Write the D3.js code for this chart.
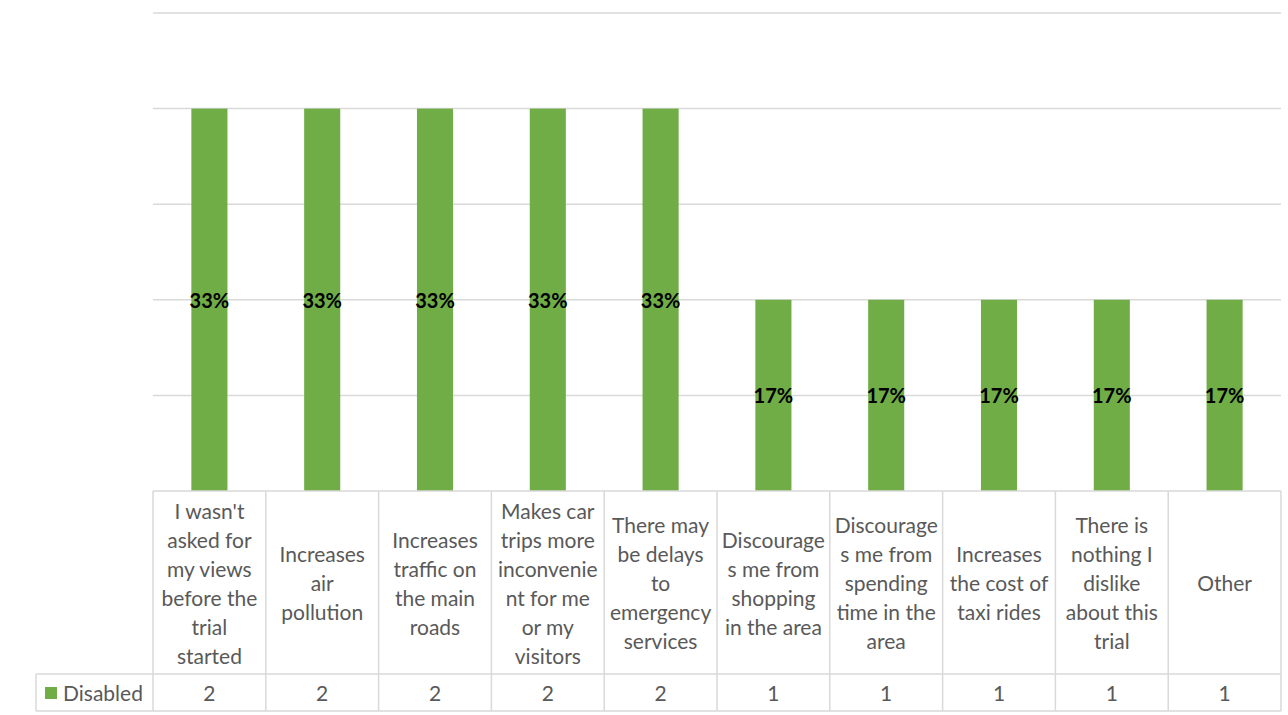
<!DOCTYPE html>
<html><head><meta charset="utf-8">
<script src="https://cdn.jsdelivr.net/npm/d3@7"></script>
<style>body{margin:0;background:#fff}svg{display:block}</style>
</head><body>
<svg id="c" width="1288" height="715"></svg>
<script>
const categories = [
  "I wasn't asked for my views before the trial started",
  "Increases air pollution",
  "Increases traffic on the main roads",
  "Makes car trips more inconvenient for me or my visitors",
  "There may be delays to emergency services",
  "Discourages me from shopping in the area",
  "Discourages me from spending time in the area",
  "Increases the cost of taxi rides",
  "There is nothing I dislike about this trial",
  "Other"
];
const categoryLines = [
  ["I wasn't","asked for","my views","before the","trial","started"],
  ["Increases","air","pollution"],
  ["Increases","traffic on","the main","roads"],
  ["Makes car","trips more","inconvenie","nt for me","or my","visitors"],
  ["There may","be delays","to","emergency","services"],
  ["Discourage","s me from","shopping","in the area"],
  ["Discourage","s me from","spending","time in the","area"],
  ["Increases","the cost of","taxi rides"],
  ["There is","nothing I","dislike","about this","trial"],
  ["Other"]
];
const seriesName = "Disabled";
const disabled = [2, 2, 2, 2, 2, 1, 1, 1, 1, 1];
const percentLabels = ["33%","33%","33%","33%","33%","17%","17%","17%","17%","17%"];
const yTicks = [0, 0.5, 1, 1.5, 2, 2.5];

(function(){
const svg = d3.select("#c");
const pLeft = 153, pRight = 1281, pTop = 13, base = 491;
const row1Bottom = 674, row2Bottom = 711, legendLeft = 36;
const grid = "#d9d9d9", textCol = "#595959", green = "#70ad47";
const font = "Lato, 'Open Sans', sans-serif";

const x = d3.scaleBand().domain(d3.range(categories.length)).range([pLeft, pRight]).paddingInner(0).paddingOuter(0);
const y = d3.scaleLinear().domain([0, 2.5]).range([base, pTop]);

svg.append("g").selectAll("line").data(yTicks.slice(1)).join("line")
  .attr("x1", pLeft).attr("x2", pRight)
  .attr("y1", d => y(d)).attr("y2", d => y(d))
  .attr("stroke", grid).attr("stroke-width", 1.5);

const bw = x.bandwidth() * 0.32;
svg.append("g").selectAll("rect").data(disabled).join("rect")
  .attr("x", (d, i) => x(i) + x.bandwidth() / 2 - bw / 2)
  .attr("width", bw)
  .attr("y", d => y(d))
  .attr("height", d => y(0) - y(d))
  .attr("fill", green);

svg.append("g").selectAll("text").data(disabled).join("text")
  .attr("x", (d, i) => x(i) + x.bandwidth() / 2)
  .attr("y", d => (y(d) + y(0)) / 2)
  .attr("text-anchor", "middle").attr("dominant-baseline", "central")
  .attr("font-family", font).attr("font-weight", "bold").attr("font-size", 20)
  .attr("fill", "#000")
  .text((d, i) => percentLabels[i]);

const tg = svg.append("g").attr("stroke", grid).attr("stroke-width", 1.5).attr("fill", "none");
tg.append("line").attr("x1", pLeft).attr("x2", pRight).attr("y1", base).attr("y2", base);
tg.append("line").attr("x1", legendLeft).attr("x2", pRight).attr("y1", row1Bottom).attr("y2", row1Bottom);
tg.append("line").attr("x1", legendLeft).attr("x2", pRight).attr("y1", row2Bottom).attr("y2", row2Bottom);
tg.append("line").attr("x1", legendLeft).attr("x2", legendLeft).attr("y1", row1Bottom).attr("y2", row2Bottom);
const bounds = d3.range(categories.length).map(i => x(i)).concat([pRight]);
tg.selectAll("line.v").data(bounds).join("line").attr("class", "v")
  .attr("x1", d => d).attr("x2", d => d).attr("y1", base).attr("y2", row2Bottom);

const lh = 29, cy = (base + row1Bottom) / 2;
const lg = svg.append("g").attr("font-family", font).attr("font-size", 21).attr("fill", textCol).attr("text-anchor", "middle");
categoryLines.forEach((lines, i) => {
  const t = lg.append("text").attr("x", x(i) + x.bandwidth() / 2);
  const y0 = cy - (lines.length - 1) * lh / 2;
  lines.forEach((s, j) => t.append("tspan").attr("x", x(i) + x.bandwidth() / 2)
    .attr("y", y0 + j * lh).attr("dominant-baseline", "central").text(s));
});

const vy = (row1Bottom + row2Bottom) / 2;
lg.append("g").selectAll("text").data(disabled).join("text")
  .attr("x", (d, i) => x(i) + x.bandwidth() / 2).attr("y", vy)
  .attr("dominant-baseline", "central").text(d => d);

svg.append("rect").attr("x", 45).attr("y", 687).attr("width", 12).attr("height", 12).attr("fill", green);
svg.append("text").attr("x", 63).attr("y", vy).attr("dominant-baseline", "central")
  .attr("font-family", font).attr("font-size", 21).attr("fill", textCol).text(seriesName);
})();
</script>
</body></html>
